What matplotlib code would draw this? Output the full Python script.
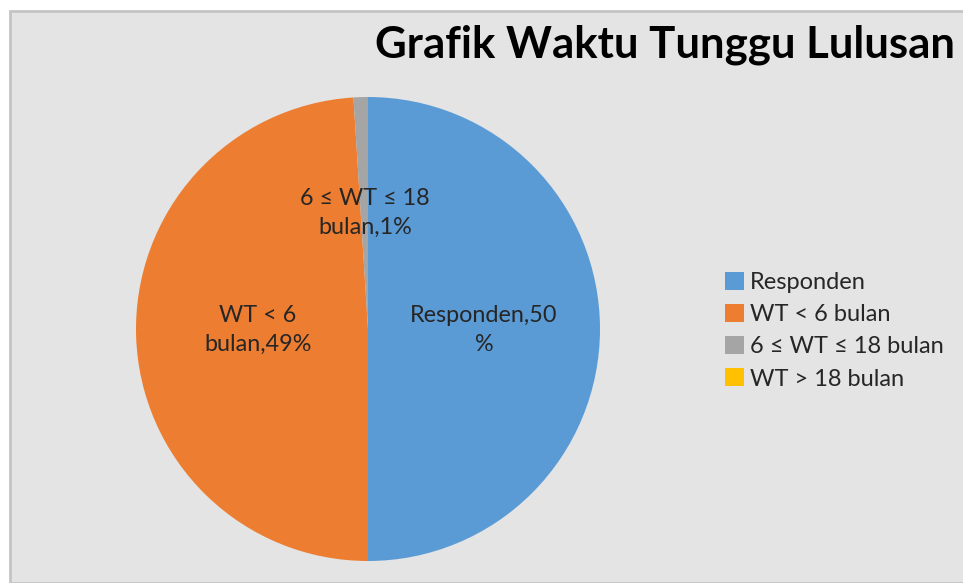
import matplotlib.pyplot as plt
from matplotlib.patches import Rectangle, Patch

plt.rcParams['font.family'] = ['Lato', 'DejaVu Sans']

categories = ['Responden', 'WT < 6 bulan', '6 ≤ WT ≤ 18 bulan', 'WT > 18 bulan']
values = [50, 49, 1, 0]
slice_labels = ['Responden,50\n%', 'WT < 6\nbulan,49%', '6 ≤ WT ≤ 18\nbulan,1%']
colors = ['#5b9bd5', '#ed7d31', '#a5a5a5', '#ffc000']

W, H = 963, 583
fig = plt.figure(figsize=(W / 100, H / 100), dpi=100)
fig.patch.set_facecolor('white')

# chart area background with border
fig.patches.append(Rectangle((10 / W, 0), 1, 1 - 11 / H, transform=fig.transFigure,
                             facecolor='#e4e4e4', edgecolor='#c4c4c4', lw=2, zorder=-5))

cx, cy, r = 368, 329, 232
ax = fig.add_axes([(cx - r) / W, (H - cy - r) / H, 2 * r / W, 2 * r / H])
ax.set_facecolor('none')
wedges, _ = ax.pie(values, colors=colors, startangle=90, counterclock=False,
                   radius=1, wedgeprops=dict(linewidth=0))
ax.set_xlim(-1, 1)
ax.set_ylim(-1, 1)
ax.set_aspect('equal')
ax.axis('off')

# data labels
label_pos = [(484, 330), (258, 330), (365, 213)]
for text, (px, py) in zip(slice_labels, label_pos):
    fig.text(px / W, 1 - py / H, text, ha='center', va='center',
             fontsize=16.8, color='#262626', linespacing=1.45)

fig.text(665 / W, 1 - 45 / H, 'Grafik Waktu Tunggu Lulusan', ha='center', va='center',
         fontsize=31.5, fontweight='bold', color='black')

handles = [Patch(facecolor=c, edgecolor='none') for c in colors]
fig.legend(handles, categories, loc='upper left', bbox_to_anchor=(725 / W, 1 - 272 / H),
           frameon=False, fontsize=17, handlelength=0.8, handleheight=0.8,
           handletextpad=0.25, labelspacing=0.46, borderaxespad=0, borderpad=0,
           labelcolor='#262626')

fig.savefig('out.png', dpi=100)
